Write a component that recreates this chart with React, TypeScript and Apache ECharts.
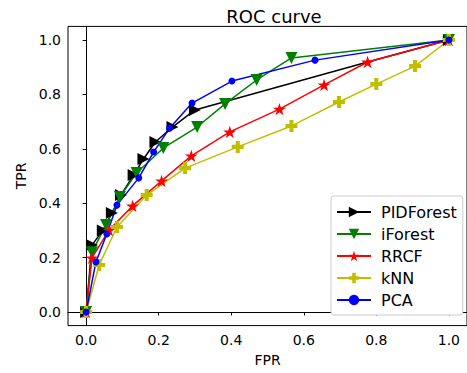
import React, { useEffect, useRef } from "react";
import * as echarts from "echarts";

const xTicks = [0.0, 0.2, 0.4, 0.6, 0.8, 1.0];

const pidFpr = [0, 0.016, 0.046, 0.071, 0.096, 0.131, 0.158, 0.191, 0.238, 0.3, 0.776, 1];
const pidTpr = [0, 0.246, 0.3, 0.364, 0.43, 0.504, 0.5625, 0.625, 0.68, 0.743, 0.919, 1];
// index of the PIDForest point whose marker is hidden in the reference
const pidHiddenMarker = [10];

const ifFpr = [0, 0.016, 0.055, 0.093, 0.139, 0.213, 0.306, 0.383, 0.47, 0.566, 1];
const ifTpr = [0, 0.22, 0.32, 0.423, 0.511, 0.603, 0.68, 0.765, 0.853, 0.934, 1];

const rrFpr = [0, 0.016, 0.063, 0.128, 0.208, 0.29, 0.396, 0.533, 0.656, 0.776, 1];
const rrTpr = [0, 0.199, 0.301, 0.39, 0.482, 0.574, 0.662, 0.746, 0.835, 0.919, 1];

const knnFpr = [0, 0.036, 0.085, 0.167, 0.273, 0.418, 0.566, 0.697, 0.8, 0.907, 1];
const knnTpr = [0, 0.173, 0.3125, 0.43, 0.529, 0.607, 0.684, 0.772, 0.838, 0.904, 1];

const pcaFpr = [0, 0.027, 0.057, 0.085, 0.145, 0.186, 0.23, 0.292, 0.402, 0.631, 1];
const pcaTpr = [0, 0.184, 0.287, 0.393, 0.493, 0.588, 0.676, 0.768, 0.849, 0.926, 1];

const STAR =
  "path://M0,-1 L0.2245,-0.309 L0.951,-0.309 L0.363,0.118 L0.588,0.809 L0,0.382 L-0.588,0.809 L-0.363,0.118 L-0.951,-0.309 L-0.2245,-0.309 Z";
const PLUS =
  "path://M0.33,0 H0.67 V0.33 H1 V0.67 H0.67 V1 H0.33 V0.67 H0 V0.33 H0.33 Z";

const FONT = "DejaVu Sans";

function zip(xs: number[], ys: number[], hidden: number[] = []) {
  return xs.map((x, i) =>
    hidden.includes(i) ? { value: [x, ys[i]], symbol: "none" } : [x, ys[i]]
  );
}

export default function App() {
  const ref = useRef<HTMLDivElement>(null);
  useEffect(() => {
    const chart = echarts.init(ref.current!, null, { renderer: "svg" });
    const mk = (
      name: string,
      color: string,
      data: any[],
      symbol: string,
      size: number,
      rotate = 0
    ) => ({
      name,
      type: "line",
      data,
      symbol,
      symbolSize: size,
      symbolRotate: rotate,
      symbolKeepAspect: true,
      showAllSymbol: true,
      lineStyle: { color, width: 1.5 },
      itemStyle: { color, borderColor: color, borderWidth: 0 },
      emphasis: { disabled: true },
    });
    const labelCommon = {
      fontFamily: FONT,
      fontSize: 14,
      color: "#000",
      margin: 7,
      customValues: xTicks,
      formatter: (v: number) => v.toFixed(1),
    };
    const tickCommon = { show: true, length: 3.5, lineStyle: { color: "#000" }, customValues: xTicks };
    chart.setOption({
      animation: false,
      textStyle: { fontFamily: FONT },
      title: {
        text: "ROC curve",
        left: 269,
        top: 2,
        textAlign: "center",
        textStyle: { fontFamily: FONT, fontSize: 18, fontWeight: "normal", color: "#000" },
      },
      grid: {
        left: 68,
        top: 26.4,
        right: -4,
        bottom: 47.4,
        show: true,
        borderColor: "#000",
        borderWidth: 1,
        backgroundColor: "transparent",
      },
      legend: {
        orient: "vertical",
        left: 331,
        top: 196,
        itemWidth: 34,
        itemHeight: 13,
        itemGap: 6,
        padding: [8, 6, 7, 5],
        backgroundColor: "#fff",
        borderColor: "#cccccc",
        borderWidth: 1,
        borderRadius: 3,
        textStyle: { fontFamily: FONT, fontSize: 16, fontWeight: "normal", color: "#000", padding: [0, 0, 0, 5] },
        data: ["PIDForest", "iForest", "RRCF", "kNN", "PCA"],
      },
      xAxis: {
        type: "value",
        min: -0.05,
        max: 1.05,
        name: "FPR",
        nameLocation: "middle",
        nameGap: 27,
        nameTextStyle: { fontFamily: FONT, fontSize: 14, color: "#000" },
        axisLine: { show: true, lineStyle: { color: "#000" } },
        splitLine: { show: false },
        axisLabel: labelCommon,
        axisTick: tickCommon,
      },
      yAxis: {
        type: "value",
        min: -0.05,
        max: 1.05,
        name: "TPR",
        nameLocation: "middle",
        nameGap: 40,
        nameTextStyle: { fontFamily: FONT, fontSize: 14, color: "#000" },
        axisLine: { show: true, lineStyle: { color: "#000" } },
        splitLine: { show: false },
        axisLabel: labelCommon,
        axisTick: tickCommon,
      },
      series: [
        mk("PIDForest", "#000000", zip(pidFpr, pidTpr, pidHiddenMarker), "triangle", 12, -90),
        mk("iForest", "#008000", zip(ifFpr, ifTpr), "triangle", 12, 180),
        mk("RRCF", "#ff0000", zip(rrFpr, rrTpr), STAR, 13),
        mk("kNN", "#bfbf00", zip(knnFpr, knnTpr), PLUS, 12),
        mk("PCA", "#0000ff", zip(pcaFpr, pcaTpr), "circle", 7),
      ],
    });
    return () => chart.dispose();
  }, []);
  return (
    <div
      ref={ref}
      style={{ position: "fixed", left: 0, top: 0, width: 467, height: 373, background: "#fff" }}
    />
  );
}
